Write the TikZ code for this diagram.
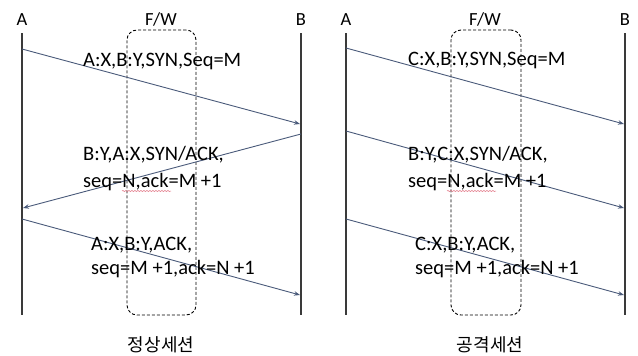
\documentclass[tikz,border=0pt]{standalone}
\usepackage{fontspec}
\setmainfont{Carlito}
\newfontfamily\kr{Noto Sans CJK KR}
\usetikzlibrary{arrows.meta,decorations.pathmorphing}
\definecolor{msgblue}{HTML}{4A5A7A}
\definecolor{lifegray}{HTML}{3A3A3A}
\definecolor{spellred}{HTML}{E07080}
\tikzset{
  party/.style={font=\fontsize{18.5}{20}\selectfont, anchor=base, inner sep=0pt},
  msgtext/.style={font=\fontsize{20.5}{22}\selectfont, anchor=base west, inner sep=0pt},
  caption/.style={font=\kr\fontsize{18}{20}\selectfont, inner sep=0pt},
  lifeline/.style={draw=lifegray, line width=1.3pt},
  fwbox/.style={draw=black, line width=0.9pt, dash pattern=on 3pt off 2pt, rounded corners=10pt},
  msg/.style={draw=msgblue, line width=0.9pt, -{Stealth[length=6pt,width=4.5pt]}},
  spell/.style={draw=spellred, line width=0.5pt, decorate, decoration={snake, amplitude=0.5pt, segment length=3pt}}
}
\begin{document}
\begin{tikzpicture}[x=1pt,y=-1pt]
\useasboundingbox (0,0) rectangle (638,356);

% ---------- normal session ----------
\node[party] (lA) at (22,26) {A};
\node[party] (lB) at (301,26) {B};
\node[party] (lF) at (161,26) {F/W};
\coordinate (lAt) at (22,33);  \coordinate (lAb) at (22,315);
\coordinate (lBt) at (301,33); \coordinate (lBb) at (301,315);
\draw[lifeline] (lAt) -- (lAb);
\draw[lifeline] (lBt) -- (lBb);
\node[fwbox, minimum width=69pt, minimum height=285pt] (lbox) at (161.5,172.5) {};

\coordinate (l1s) at (22,49);   \coordinate (l1e) at (300,124);
\coordinate (l2s) at (301,134); \coordinate (l2e) at (23,208);
\coordinate (l3s) at (22,219);  \coordinate (l3e) at (300,295);
\draw[msg] (l1s) -- (l1e);
\draw[msg] (l2s) -- (l2e);
\draw[msg] (l3s) -- (l3e);

\node[msgtext] (lt1) at (83,66) {A:X,B:Y,SYN,Seq=M};
\node[msgtext] (lt2a) at (83,160) {B:Y,A:X,SYN/ACK,};
\node[msgtext] (lt2b) at (83,187) {seq=N,ack=M +1};
\node[msgtext] (lt3a) at (91,250) {A:X,B:Y,ACK,};
\node[msgtext] (lt3b) at (91,274) {seq=M +1,ack=N +1};
\coordinate (lu1) at (122,191); \coordinate (lu2) at (171,191);
\draw[spell] (lu1) -- (lu2);

\node[caption] (lcap) at (161,345) {정상세션};

% ---------- attack session ----------
\node[party] (rA) at (346,26) {A};
\node[party] (rB) at (625,26) {B};
\node[party] (rF) at (485,26) {F/W};
\coordinate (rAt) at (346,33);  \coordinate (rAb) at (346,315);
\coordinate (rBt) at (625,33);  \coordinate (rBb) at (625,315);
\draw[lifeline] (rAt) -- (rAb);
\draw[lifeline] (rBt) -- (rBb);
\node[fwbox, minimum width=70pt, minimum height=285pt] (rbox) at (486,172.5) {};

\coordinate (r1s) at (346,48);  \coordinate (r1e) at (624,124);
\coordinate (r2s) at (346,131); \coordinate (r2e) at (624,208);
\coordinate (r3s) at (346,219); \coordinate (r3e) at (624,295);
\draw[msg] (r1s) -- (r1e);
\draw[msg] (r2s) -- (r2e);
\draw[msg] (r3s) -- (r3e);

\node[msgtext] (rt1) at (408,65) {C:X,B:Y,SYN,Seq=M};
\node[msgtext] (rt2a) at (408,160) {B:Y,C:X,SYN/ACK,};
\node[msgtext] (rt2b) at (408,187) {seq=N,ack=M +1};
\node[msgtext] (rt3a) at (415,250) {C:X,B:Y,ACK,};
\node[msgtext] (rt3b) at (415,274) {seq=M +1,ack=N +1};
\coordinate (ru1) at (447,191); \coordinate (ru2) at (496,191);
\draw[spell] (ru1) -- (ru2);

\node[caption] (rcap) at (490,345) {공격세션};
\end{tikzpicture}
\end{document}
